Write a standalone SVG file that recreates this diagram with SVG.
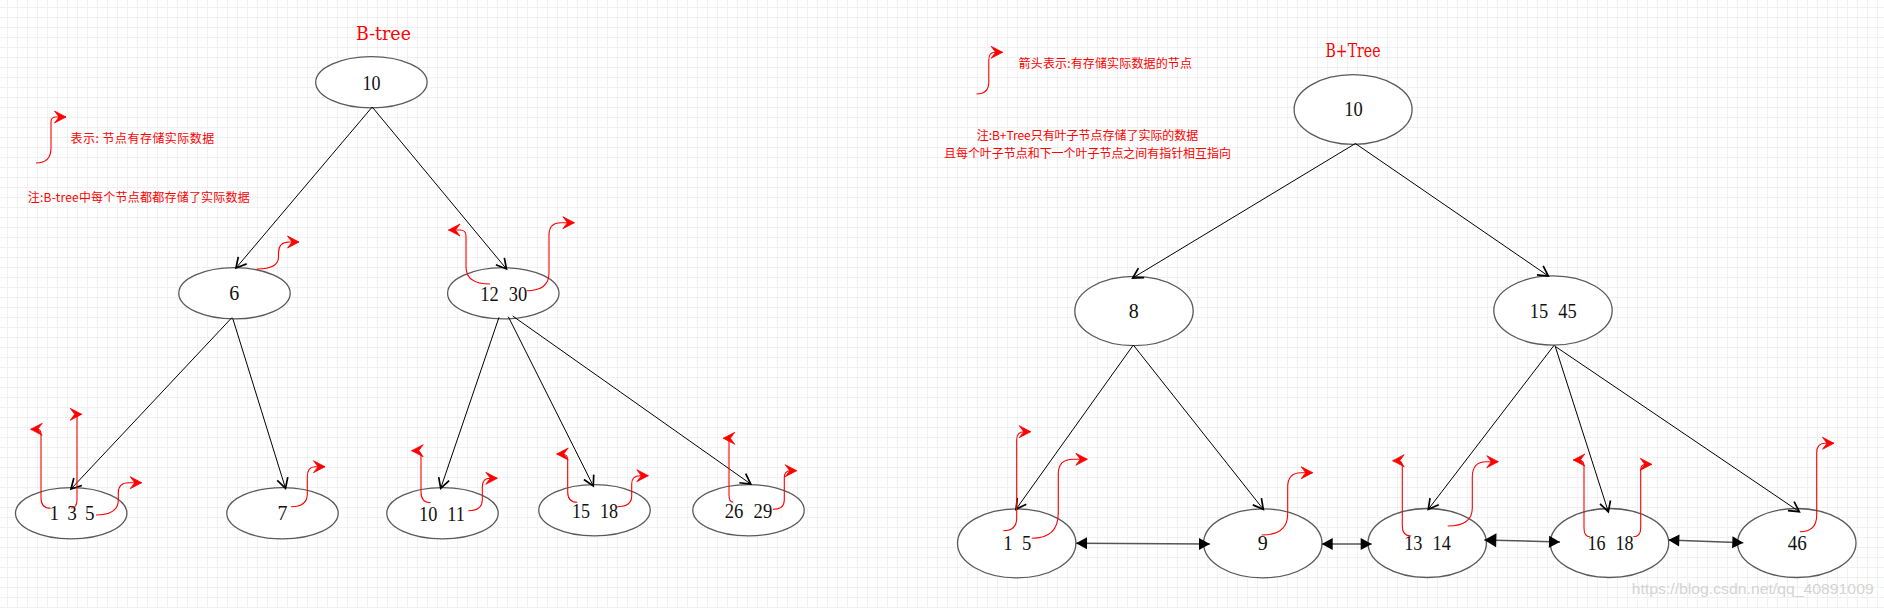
<svg xmlns="http://www.w3.org/2000/svg" width="1884" height="608" viewBox="0 0 1884 608">
<style>
.nd{fill:#fff;stroke:#5a5a5a;stroke-width:1.3}
.lb{font-family:"Liberation Serif",serif;font-size:20px;fill:#111;text-anchor:middle}
.ws{word-spacing:6px}
.cn{stroke:#000;stroke-width:1;fill:none;marker-end:url(#open)}
.rd{stroke:#f00;stroke-width:1.1;fill:none;marker-end:url(#red)}
.lk{stroke:#555;stroke-width:1.5;fill:none;marker-start:url(#blk);marker-end:url(#blk)}
.cj{font-family:"Noto Sans CJK SC","Liberation Sans",sans-serif;font-size:12px;fill:#f00}
.tt{font-family:"DejaVu Serif","Liberation Serif",serif;font-size:18px;fill:#f00;text-anchor:middle}
</style>
<defs>
<pattern id="grid" width="10" height="10" x="7" y="7" patternUnits="userSpaceOnUse">
<rect width="10" height="1" fill="#f1f1f1"/><rect width="1" height="10" fill="#f1f1f1"/>
</pattern>
<marker id="open" viewBox="-12 -7 14 14" refX="0" refY="0" markerWidth="14" markerHeight="14" markerUnits="userSpaceOnUse" orient="auto"><path d="M-10,-5.5 L0,0 L-10,5.5" fill="none" stroke="#000" stroke-width="1.7"/></marker>
<marker id="red" viewBox="-13 -7 15 14" refX="0" refY="0" markerWidth="15" markerHeight="14" markerUnits="userSpaceOnUse" orient="auto"><path d="M0,0 L-11.5,-6 L-7,0 L-11.5,6 Z" fill="#f00" stroke="#f00" stroke-width="0.8"/></marker>
<marker id="blk" viewBox="-12 -7 14 14" refX="0" refY="0" markerWidth="14" markerHeight="14" markerUnits="userSpaceOnUse" orient="auto-start-reverse"><path d="M0,0 L-11,-6 L-11,6 Z" fill="#000"/></marker>
<marker id="blkBig" viewBox="-14 -8 16 16" refX="0" refY="0" markerWidth="16" markerHeight="16" markerUnits="userSpaceOnUse" orient="auto-start-reverse"><path d="M0,0 L-12,-7 L-12,7 Z" fill="#000"/></marker>
</defs>
<rect width="1884" height="608" fill="#fff"/>
<rect width="1884" height="608" fill="url(#grid)"/>

<text class="tt" x="383.5" y="40" textLength="55" lengthAdjust="spacingAndGlyphs">B-tree</text>
<text class="tt" x="1353" y="57" textLength="55" lengthAdjust="spacingAndGlyphs">B+Tree</text>
<text class="cj" x="70.6" y="142.7" textLength="143.7">表示: 节点有存储实际数据</text>
<text class="cj" x="27.8" y="202" textLength="222">注:B-tree中每个节点都都存储了实际数据</text>
<text class="cj" x="1018.6" y="68" textLength="173.4">箭头表示:有存储实际数据的节点</text>
<text class="cj" x="976.7" y="139.5" textLength="221.6">注:B+Tree只有叶子节点存储了实际的数据</text>
<text class="cj" x="944" y="158" textLength="287">且每个叶子节点和下一个叶子节点之间有指针相互指向</text>

<g id="bt-root"><ellipse class="nd" cx="371.4" cy="82.3" rx="55.7" ry="25.6"/><text class="lb" x="371.5" y="89.5" textLength="18" lengthAdjust="spacingAndGlyphs">10</text></g>
<g id="bt-6"><ellipse class="nd" cx="234.5" cy="293.3" rx="55.7" ry="25.6"/><text class="lb" x="234.3" y="300.3">6</text></g>
<g id="bt-12-30"><ellipse class="nd" cx="503.3" cy="293.3" rx="55.7" ry="25.6"/><text class="lb ws" x="503.8" y="301" textLength="47" lengthAdjust="spacingAndGlyphs">12 30</text></g>
<g id="bt-1-3-5"><ellipse class="nd" cx="71.2" cy="513.3" rx="55.7" ry="25.6"/><text class="lb" style="word-spacing:3.5px" x="72" y="520.3" textLength="45" lengthAdjust="spacingAndGlyphs">1 3 5</text></g>
<g id="bt-7"><ellipse class="nd" cx="282.5" cy="513.3" rx="55.7" ry="25.6"/><text class="lb" x="282.5" y="520">7</text></g>
<g id="bt-10-11"><ellipse class="nd" cx="442.5" cy="513.3" rx="55.7" ry="25.6"/><text class="lb ws" x="442" y="520.7" textLength="46" lengthAdjust="spacingAndGlyphs">10 11</text></g>
<g id="bt-15-18"><ellipse class="nd" cx="594.5" cy="510.3" rx="55.7" ry="25.6"/><text class="lb ws" x="595" y="517.5" textLength="46" lengthAdjust="spacingAndGlyphs">15 18</text></g>
<g id="bt-26-29"><ellipse class="nd" cx="748.5" cy="510.3" rx="55.7" ry="25.6"/><text class="lb ws" x="748.5" y="517.5" textLength="47.5" lengthAdjust="spacingAndGlyphs">26 29</text></g>

<g id="bp-root"><ellipse class="nd" cx="1353.1" cy="109.5" rx="59" ry="34.8"/><text class="lb" x="1353.6" y="116.3" textLength="18.5" lengthAdjust="spacingAndGlyphs">10</text></g>
<g id="bp-8"><ellipse class="nd" cx="1134" cy="311" rx="59.2" ry="34.6"/><text class="lb" x="1133.8" y="318.3">8</text></g>
<g id="bp-15-45"><ellipse class="nd" cx="1553" cy="310.5" rx="59.2" ry="34.6"/><text class="lb ws" x="1553.3" y="317.5" textLength="47" lengthAdjust="spacingAndGlyphs">15 45</text></g>
<g id="bp-1-5"><ellipse class="nd" cx="1016.7" cy="543.3" rx="59.2" ry="34.5"/><text class="lb" style="word-spacing:5px" x="1017.3" y="550.2" textLength="28" lengthAdjust="spacingAndGlyphs">1 5</text></g>
<g id="bp-9"><ellipse class="nd" cx="1262.8" cy="543.3" rx="59.2" ry="34.5"/><text class="lb" x="1262.8" y="550.2">9</text></g>
<g id="bp-13-14"><ellipse class="nd" cx="1427.2" cy="543" rx="59.2" ry="34.5"/><text class="lb ws" x="1427.5" y="550.2" textLength="46.5" lengthAdjust="spacingAndGlyphs">13 14</text></g>
<g id="bp-16-18"><ellipse class="nd" cx="1609.5" cy="543" rx="59.2" ry="34.5"/><text class="lb ws" x="1610.5" y="550.2" textLength="46" lengthAdjust="spacingAndGlyphs">16 18</text></g>
<g id="bp-46"><ellipse class="nd" cx="1796.8" cy="543" rx="59.2" ry="34.5"/><text class="lb" x="1797.2" y="550.2" textLength="19" lengthAdjust="spacingAndGlyphs">46</text></g>

<g id="connectors">
<path class="cn" d="M372.2,107 L236,268"/>
<path class="cn" d="M372.2,107 L506.5,269"/>
<path class="cn" d="M232,317.5 L71,489"/>
<path class="cn" d="M232.7,318.3 L285.5,488.3"/>
<path class="cn" d="M499,317.3 L440.7,488.3"/>
<path class="cn" d="M508.3,316.7 L593.3,486"/>
<path class="cn" d="M512.7,316 L750.7,484"/>
<path class="cn" d="M1355.4,143.5 L1132.7,278"/>
<path class="cn" d="M1355.4,143.5 L1548.3,276"/>
<path class="cn" d="M1133.3,345 L1016,509.3"/>
<path class="cn" d="M1133.3,345 L1263.3,509.3"/>
<path class="cn" d="M1554.3,345 L1428.3,509.3"/>
<path class="cn" d="M1555,345.7 L1608.3,511.7"/>
<path class="cn" d="M1555.7,346.7 L1799.3,511.7"/>

<path class="lk" d="M1076,543.3 L1210,544"/>
<path class="lk" d="M1321.7,544 L1371.7,544"/>
<path class="lk" style="marker-start:url(#blkBig)" d="M1484.3,540 L1560,542"/>
<path class="lk" d="M1668.3,540 L1743.3,542.7"/>

<path class="rd" d="M36,163 Q51,163 51,148 L51,122 Q51,117 56,117 L66,117"/>
<path class="rd" d="M257,269 Q278.5,269 278.5,257 L278.5,253 Q278.5,242 289,242 L299,242"/>
<path class="rd" d="M490,284 Q466,284 466,267 L466,236 Q466,230 460,230 L448.5,230"/>
<path class="rd" d="M526.6,290.7 Q549,290.7 549,273 L549,235 Q549,222.7 561,222.7 L574.4,222.7"/>
<path class="rd" d="M50.7,508.3 Q41,508.3 41,498 L41,434 Q41,429.3 37,429.3 L30.7,429.3"/>
<path class="rd" d="M71,508 Q77,508 77,500 L77,420 Q77,414.3 80,414.3 L81.7,414.3"/>
<path class="rd" d="M96,515 Q118.3,515 118.3,500 L118.3,493 Q118.3,482.7 128.5,482.7 L141.7,482.7"/>
<path class="rd" d="M291,506.7 Q307.3,506.7 307.3,494 L307.3,477 Q307.3,466.7 315,466.7 L325,466.7"/>
<path class="rd" d="M430.7,502.7 Q421,502.7 421,492 L421,456 Q421,450.7 416,450.7 L411.7,450.7"/>
<path class="rd" d="M468.3,510.7 Q482.3,510.7 482.3,500 L482.3,487 Q482.3,478.3 490,478.3 L497.3,478.3"/>
<path class="rd" d="M577.3,502.3 Q567.7,502.3 567.7,492 L567.7,460 Q567.7,454 562,454 L556.7,454"/>
<path class="rd" d="M617.3,506.7 Q631.7,506.7 631.7,496 L631.7,484 Q631.7,475.7 640,475.7 L648.3,475.7"/>
<path class="rd" d="M733.3,502.3 Q729,502.3 729,495 L729,443 Q729,438.3 726,438.3 L723.3,438.3"/>
<path class="rd" d="M772.7,509.3 Q784.3,509.3 784.3,500 L784.3,478 Q784.3,470.7 790,470.7 L796.7,470.7"/>

<path class="rd" d="M976.5,94 Q988.8,94 988.8,82 L988.8,60 Q988.8,52.3 995,52.3 L1002.6,52.3"/>
<path class="rd" d="M1003.3,530.7 Q1016.7,530.7 1016.7,518 L1016.7,440 Q1016.7,431.7 1024,431.7 L1030.7,431.7"/>
<path class="rd" d="M1031.7,538.3 Q1058.3,538.3 1058.3,513 L1058.3,474 Q1058.3,459.3 1073,459.3 L1087.3,459.3"/>
<path class="rd" d="M1261.7,535 Q1287.7,535 1287.7,514 L1287.7,487 Q1287.7,472.7 1301,472.7 L1312.7,472.7"/>
<path class="rd" d="M1411,536 Q1402.3,536 1402.3,526 L1402.3,466 Q1402.3,460.7 1398,460.7 L1392.7,460.7"/>
<path class="rd" d="M1447.7,526 Q1472.3,526 1472.3,508 L1472.3,477 Q1472.3,461.7 1486,461.7 L1498.3,461.7"/>
<path class="rd" d="M1590,536.7 Q1584,536.7 1584,528 L1584,466 Q1584,460 1579,460 L1573.3,460"/>
<path class="rd" d="M1633.3,536.7 Q1640.7,536.7 1640.7,528 L1640.7,470 Q1640.7,464.3 1646,464.3 L1651.7,464.3"/>
<path class="rd" d="M1800,531.7 Q1816.7,531.7 1816.7,515 L1816.7,453 Q1816.7,443.3 1825,443.3 L1834,443.3"/>
</g>

<text x="1631.7" y="594" textLength="242" lengthAdjust="spacingAndGlyphs" style="font-family:'Liberation Sans',sans-serif;font-size:15px;fill:#d4d4d4">https://blog.csdn.net/qq_40891009</text>
</svg>
